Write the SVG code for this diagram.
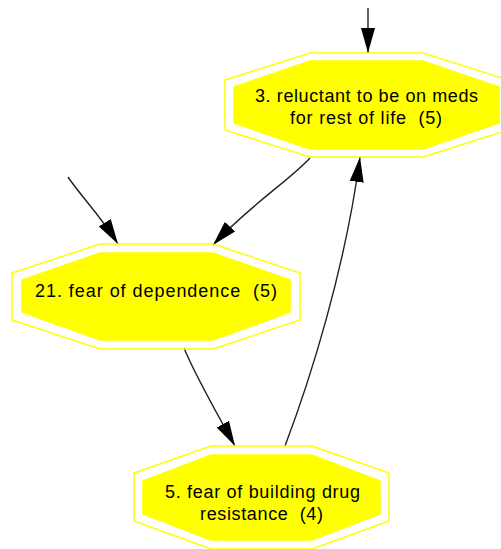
<svg xmlns="http://www.w3.org/2000/svg" width="501" height="549" viewBox="0 0 501 549">
<style>
.outer{fill:none;stroke:#ffff00;stroke-width:1.5}
.inner{fill:#ffff00;stroke:#ffff00;stroke-width:1.5}
.lbl{font-family:"Liberation Sans",Arial,sans-serif;font-size:18px;fill:#000;text-anchor:middle;white-space:pre}
.edge{fill:none;stroke:#222;stroke-width:1.4}
</style>
<defs>
<marker id="ah" markerUnits="userSpaceOnUse" markerWidth="26" markerHeight="16" viewBox="0 0 26 16" refX="25" refY="8" orient="auto">
<path d="M0,1 L25,8 L0,15 Z" fill="#000"/>
</marker>
</defs>
<rect width="501" height="549" fill="#fff"/>
<g id="edges">
<path class="edge" d="M368,8 L368,53" marker-end="url(#ah)"/>
<path class="edge" d="M310,158 C290,180 250,205 213,245" marker-end="url(#ah)"/>
<path class="edge" d="M68,177 C80,195 100,215 118,244" marker-end="url(#ah)"/>
<path class="edge" d="M184,348 C195,375 215,410 235,446" marker-end="url(#ah)"/>
<path class="edge" d="M285,446 C310,380 345,270 360,157" marker-end="url(#ah)"/>
</g>
<g id="node3">
<polygon class="outer" points="310,53 423,53 508,80 508,130 423,157 310,157 225,130 225,80"/>
<polygon class="inner" points="310,61 423,61 499,87 499,123 423,149 310,149 234,123 234,87"/>
<text class="lbl" x="366.5" y="101.5" textLength="223" lengthAdjust="spacing">3. reluctant to be on meds</text>
<text class="lbl" x="366" y="124" textLength="152" lengthAdjust="spacing" xml:space="preserve">for rest of life  (5)</text>
</g>
<g id="node21">
<polygon class="outer" points="100,244 213,244 300,273 300,320 213,349 100,349 12,320 12,273"/>
<polygon class="inner" points="100,253 213,253 290,280 290,312 213,340 100,340 22,312 22,280"/>
<text class="lbl" x="156" y="297" textLength="242" lengthAdjust="spacing" xml:space="preserve">21. fear of dependence  (5)</text>
</g>
<g id="node5">
<polygon class="outer" points="211,446 312,446 389,473 389,521 312,549 211,549 134,521 134,473"/>
<polygon class="inner" points="211,455 312,455 380,481 380,514 312,540 211,540 143,514 143,481"/>
<text class="lbl" x="262.5" y="498" textLength="195" lengthAdjust="spacing">5. fear of building drug</text>
<text class="lbl" x="261.5" y="520" textLength="123" lengthAdjust="spacing" xml:space="preserve">resistance  (4)</text>
</g>
</svg>
